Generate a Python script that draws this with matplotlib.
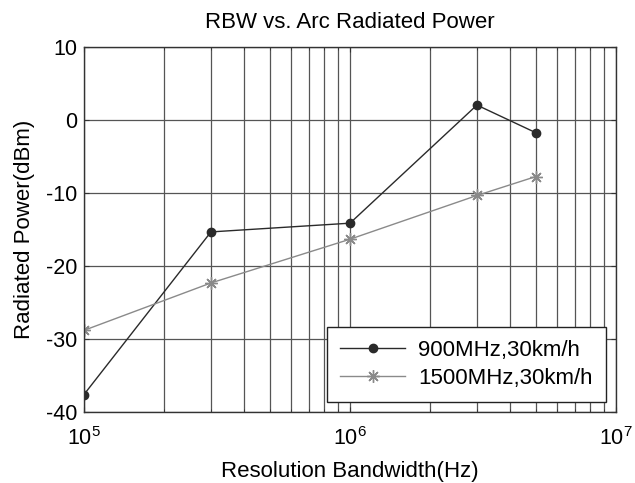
import matplotlib
matplotlib.use("Agg")
import matplotlib.pyplot as plt
from matplotlib.ticker import LogLocator, LogFormatterMathtext, NullFormatter

plt.rcParams['font.family'] = ['Liberation Sans', 'DejaVu Sans']
plt.rcParams['mathtext.fontset'] = 'custom'
plt.rcParams['mathtext.rm'] = 'Liberation Sans'
plt.rcParams['mathtext.it'] = 'Liberation Sans'
plt.rcParams['axes.unicode_minus'] = False

# data
rbw = [1e5, 3e5, 1e6, 3e6, 5e6]
p_900 = [-37.6, -15.3, -14.1, 2.1, -1.7]
p_1500 = [-28.8, -22.3, -16.3, -10.3, -7.7]
labels = ["900MHz,30km/h", "1500MHz,30km/h"]

fig = plt.figure(figsize=(6.35, 4.83), dpi=100)
ax = fig.add_axes([0.1323, 0.1470, 0.8378, 0.7547])

ax.plot(rbw, p_900, color="#2a2a2a", lw=1.0, marker="o", ms=6,
        markerfacecolor="#2a2a2a", markeredgecolor="#2a2a2a", label=labels[0])
ax.plot(rbw, p_1500, color="#8a8a8a", lw=1.0, marker=(8, 2, 0), ms=9,
        markeredgecolor="#8a8a8a", markeredgewidth=1.0, label=labels[1])

ax.set_xscale("log")
ax.set_xlim(1e5, 1e7)
ax.set_ylim(-40, 10)
ax.set_yticks([-40, -30, -20, -10, 0, 10])
ax.xaxis.set_major_locator(LogLocator(base=10))
ax.xaxis.set_major_formatter(LogFormatterMathtext())
ax.xaxis.set_minor_locator(LogLocator(base=10, subs=range(2, 10)))
ax.xaxis.set_minor_formatter(NullFormatter())

ax.grid(True, which="major", color="#555555", lw=0.9)
ax.grid(True, which="minor", axis="x", color="#555555", lw=0.9)
ax.tick_params(which="both", direction="in", top=True, right=True,
               labelsize=15.5, color="#333333")
ax.tick_params(axis="x", pad=11)
ax.tick_params(axis="y", pad=5)
for s in ax.spines.values():
    s.set_color("#333333")
    s.set_linewidth(1.0)

ax.set_title("RBW vs. Arc Radiated Power", fontsize=16, pad=14)
ax.set_xlabel("Resolution Bandwidth(Hz)", fontsize=16, labelpad=8)
ax.set_ylabel("Radiated Power(dBm)", fontsize=16, labelpad=8)

leg = ax.legend(loc="lower right", fontsize=16, fancybox=False, framealpha=1,
                edgecolor="#222222", handlelength=2.9, handletextpad=0.6,
                borderaxespad=0.45, borderpad=0.6, labelspacing=0.3)
leg.get_frame().set_linewidth(1.0)

fig.savefig("out.png", dpi=100)
